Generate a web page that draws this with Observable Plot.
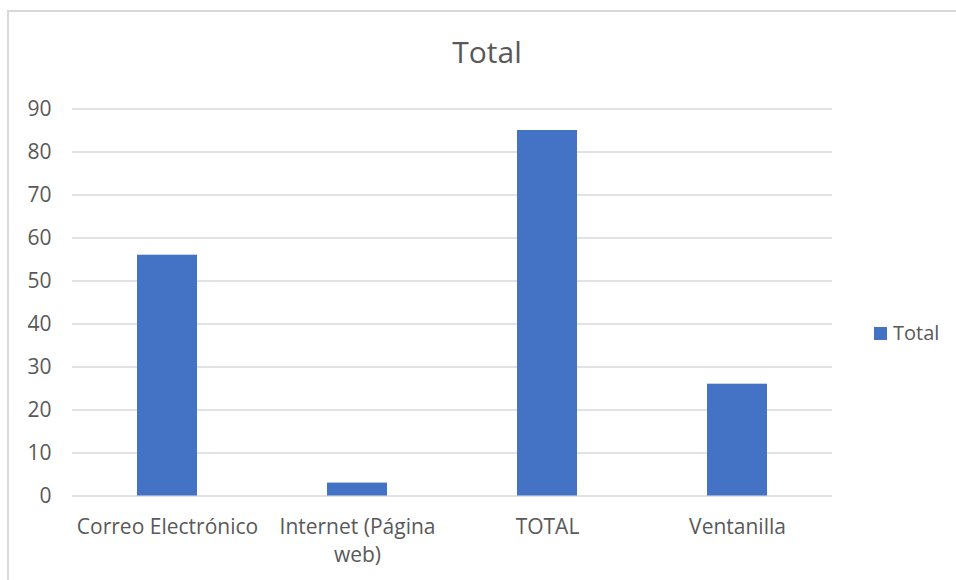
<!DOCTYPE html>
<html>
<head>
<meta charset="utf-8">
<script src="https://cdn.jsdelivr.net/npm/d3@7"></script>
<script src="https://cdn.jsdelivr.net/npm/@observablehq/plot@0.6"></script>
<style>
  html, body { margin: 0; padding: 0; background: #fff; }
  #wrap { position: relative; width: 956px; height: 580px; overflow: hidden; font-family: "Open Sans", sans-serif; color: #595959; }
  #frame { position: absolute; left: 7px; top: 10px; width: 970px; height: 600px; border: 2px solid #d9d9d9; box-sizing: border-box; }
  #title { position: absolute; left: 0; width: 974px; top: 32px; text-align: center; font-size: 30px; line-height: 40px; }
  #chart { position: absolute; left: 0; top: 0; }
  #legend { position: absolute; left: 874px; top: 320px; display: flex; align-items: center; font-size: 20px; line-height: 26px; }
  #legend .sw { width: 13px; height: 13px; margin-right: 6px; }
</style>
</head>
<body>
<div id="wrap">
  <div id="frame"></div>
  <div id="title"></div>
  <div id="chart"></div>
  <div id="legend"></div>
</div>
<script>
const categories = ["Correo Electrónico", "Internet (Página web)", "TOTAL", "Ventanilla"];
const values = [56, 3, 85, 26];
const tickLabels = ["Correo Electrónico", "Internet (Página\nweb)", "TOTAL", "Ventanilla"];
const yTicks = [0, 10, 20, 30, 40, 50, 60, 70, 80, 90];
const seriesName = "Total";
const titleText = "Total";
const barColor = "#4472C4";

const data = categories.map((c, i) => ({category: c, value: values[i]}));

document.getElementById("title").textContent = titleText;
const leg = document.getElementById("legend");
const sw = document.createElement("span");
sw.className = "sw";
sw.style.background = barColor;
leg.appendChild(sw);
leg.appendChild(document.createTextNode(seriesName));

const chart = Plot.plot({
  width: 956,
  height: 580,
  marginLeft: 72,
  marginRight: 124,
  marginTop: 108.5,
  marginBottom: 84.5,
  style: {fontFamily: "'Open Sans', sans-serif", fontSize: "21px", color: "#595959", background: "transparent", overflow: "visible"},
  x: {domain: categories, paddingInner: 130 / 190, paddingOuter: 65 / 190, label: null},
  y: {domain: [0, 90], label: null},
  marks: [
    Plot.gridY(yTicks, {stroke: "#d9d9d9", strokeOpacity: 1, strokeWidth: 1.5}),
    Plot.barY(data, {x: "category", y: "value", fill: barColor}),
    Plot.axisY(yTicks, {tickSize: 0, tickPadding: 21, label: null, fontSize: 21}),
    Plot.axisX({tickSize: 0, tickPadding: 18, label: null, fontSize: 21, lineHeight: 1.33,
      tickFormat: d => tickLabels[categories.indexOf(d)]})
  ]
});
document.getElementById("chart").appendChild(chart);
</script>
</body>
</html>
